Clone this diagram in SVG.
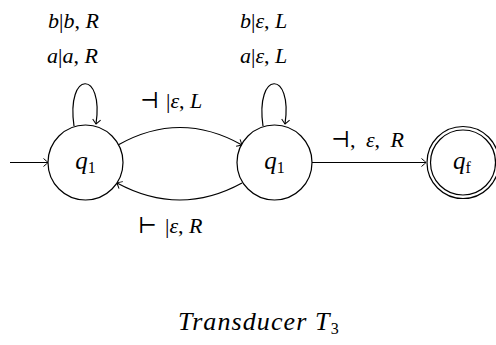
<svg xmlns="http://www.w3.org/2000/svg" width="496" height="345" viewBox="0 0 496 345">
<style>
text{font-family:"Liberation Serif","DejaVu Serif",serif;font-size:22px;fill:#000}
.i{font-style:italic}
.s{font-size:16px;font-style:normal}
.q{font-size:25px}
.t{font-size:26px;letter-spacing:1.1px}
.ws{word-spacing:5px}
.node{fill:#fff;stroke:#000;stroke-width:1.2}
.edge{fill:none;stroke:#000;stroke-width:1.2;marker-end:url(#ar)}
</style>
<defs>
<marker id="ar" markerUnits="userSpaceOnUse" markerWidth="12" markerHeight="12" viewBox="-6 -6 12 12" refX="0" refY="0" orient="auto">
<path d="M-4.5,-4 Q-1,-1 0,0 Q-1,1 -4.5,4" fill="none" stroke="#000" stroke-width="1"/>
</marker>
</defs>
<g id="connectors">
<path class="edge" d="M10,162.5 L48,162.5"/>
<path class="edge" d="M74,126 C66,70 104,70 96,124"/>
<path class="edge" d="M263,126 C255,70 293,70 285,124"/>
<path class="edge" d="M118,145 Q180,110 242,145"/>
<path class="edge" d="M242,183 Q180,217 117,183"/>
<path class="edge" d="M312,162.5 L426,162.5"/>
</g>
<g id="labels">
<text x="48" y="28"><tspan class="i">b</tspan>|<tspan class="i">b</tspan>, <tspan class="i">R</tspan></text>
<text x="47" y="63"><tspan class="i">a</tspan>|<tspan class="i">a</tspan>, <tspan class="i">R</tspan></text>
<text x="240" y="28"><tspan class="i">b</tspan>|<tspan class="i">ε</tspan>, <tspan class="i">L</tspan></text>
<text x="240" y="63"><tspan class="i">a</tspan>|<tspan class="i">ε</tspan>, <tspan class="i">L</tspan></text>
<text x="140" y="108">⊣ <tspan x="166">|</tspan><tspan class="i">ε</tspan>, <tspan class="i">L</tspan></text>
<text x="138" y="233">⊢ <tspan x="165">|</tspan><tspan class="i">ε</tspan>, <tspan class="i">R</tspan></text>
<text x="331" y="147" class="ws">⊣, <tspan class="i">ε</tspan>, <tspan class="i">R</tspan></text>
<text x="178" y="330" class="i t">Transducer T<tspan class="s" dy="4">3</tspan></text>
</g>
<g id="q1a">
<circle class="node" cx="85.5" cy="162.5" r="37.5"/>
<text x="85.5" y="169" text-anchor="middle" class="q"><tspan class="i">q</tspan><tspan class="s" dy="4">1</tspan></text>
</g>
<g id="q1b">
<circle class="node" cx="274.5" cy="162.5" r="37.5"/>
<text x="274.5" y="169" text-anchor="middle" class="q"><tspan class="i">q</tspan><tspan class="s" dy="4">1</tspan></text>
</g>
<g id="qf">
<circle class="node" cx="463" cy="162.5" r="36"/>
<circle class="node" cx="463" cy="162.5" r="32.5" fill="none"/>
<text x="462" y="169" text-anchor="middle" class="q"><tspan class="i">q</tspan><tspan class="s i" dy="4">f</tspan></text>
</g>
</svg>
